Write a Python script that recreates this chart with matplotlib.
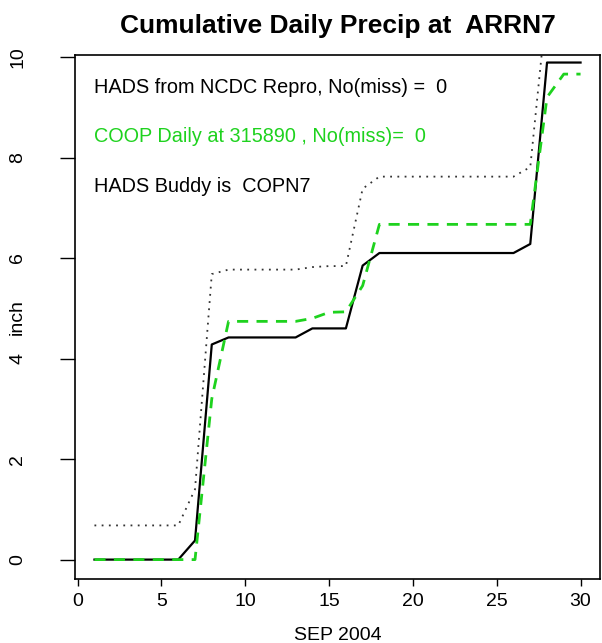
import numpy as np
import matplotlib
matplotlib.use("Agg")
import matplotlib.pyplot as plt

plt.rcParams['font.family'] = ['Liberation Sans', 'DejaVu Sans']

days = list(range(1, 31))

# cumulative precip (inch)
hads = [0, 0, 0, 0, 0, 0, 0.38, 4.28, 4.42, 4.42,
        4.42, 4.42, 4.42, 4.60, 4.60, 4.60, 5.85, 6.10, 6.10, 6.10,
        6.10, 6.10, 6.10, 6.10, 6.10, 6.10, 6.28, 9.89, 9.89, 9.89]
coop = [0, 0, 0, 0, 0, 0, 0, 3.20, 4.74, 4.74,
        4.74, 4.74, 4.74, 4.80, 4.92, 4.93, 5.45, 6.67, 6.67, 6.67,
        6.67, 6.67, 6.67, 6.67, 6.67, 6.67, 6.67, 9.20, 9.66, 9.66]
buddy = [0.68, 0.68, 0.68, 0.68, 0.68, 0.68, 1.40, 5.68, 5.77, 5.77,
         5.77, 5.77, 5.77, 5.82, 5.84, 5.84, 7.38, 7.62, 7.62, 7.62,
         7.62, 7.62, 7.62, 7.62, 7.62, 7.62, 7.81, 11.1, 11.1, 11.1]

station = "ARRN7"
coop_id = "315890"
buddy_id = "COPN7"

fig = plt.figure(figsize=(6.02, 6.43), dpi=100)
ax = fig.add_axes([75/602, 1 - 579/643, 525/602, 524/643])

green = '#1ed21e'
ax.plot(days, hads, color='black', lw=1.6)
ax.plot(days, coop, color=green, lw=2.0, linestyle=(0, (4, 3)))
ax.plot(days, buddy, color='#333333', lw=1.3, linestyle=(0, (1, 3)))

ax.set_xlim(-0.16, 31.16)
ax.set_ylim(-0.386, 10.04)
ax.set_xticks([0, 5, 10, 15, 20, 25, 30])
ax.set_yticks([0, 2, 4, 6, 8, 10])
ax.tick_params(axis='x', length=5, width=1, labelsize=14, pad=5)
ax.tick_params(axis='y', length=11, width=1, labelsize=14, pad=24,
               labelrotation=90)
for lab in ax.get_yticklabels():
    lab.set_va('center')
for s in ax.spines.values():
    s.set_linewidth(1.2)

ax.set_xlabel("SEP 2004", fontsize=14, labelpad=12)
ax.set_ylabel("inch", fontsize=14, va='center')
ax.yaxis.set_label_coords(-0.11, 0.5)
ax.set_title("Cumulative Daily Precip at  " + station, fontsize=19,
             fontweight='bold', pad=16)

ax.text(1, 9.4, "HADS from NCDC Repro, No(miss) =  0", fontsize=14.3,
        va='center', ha='left')
ax.text(1, 8.41, "COOP Daily at " + coop_id + " , No(miss)=  0", fontsize=14.3,
        va='center', ha='left', color=green)
ax.text(1, 7.43, "HADS Buddy is  " + buddy_id, fontsize=14.3,
        va='center', ha='left')

plt.savefig("out.png", dpi=100)
